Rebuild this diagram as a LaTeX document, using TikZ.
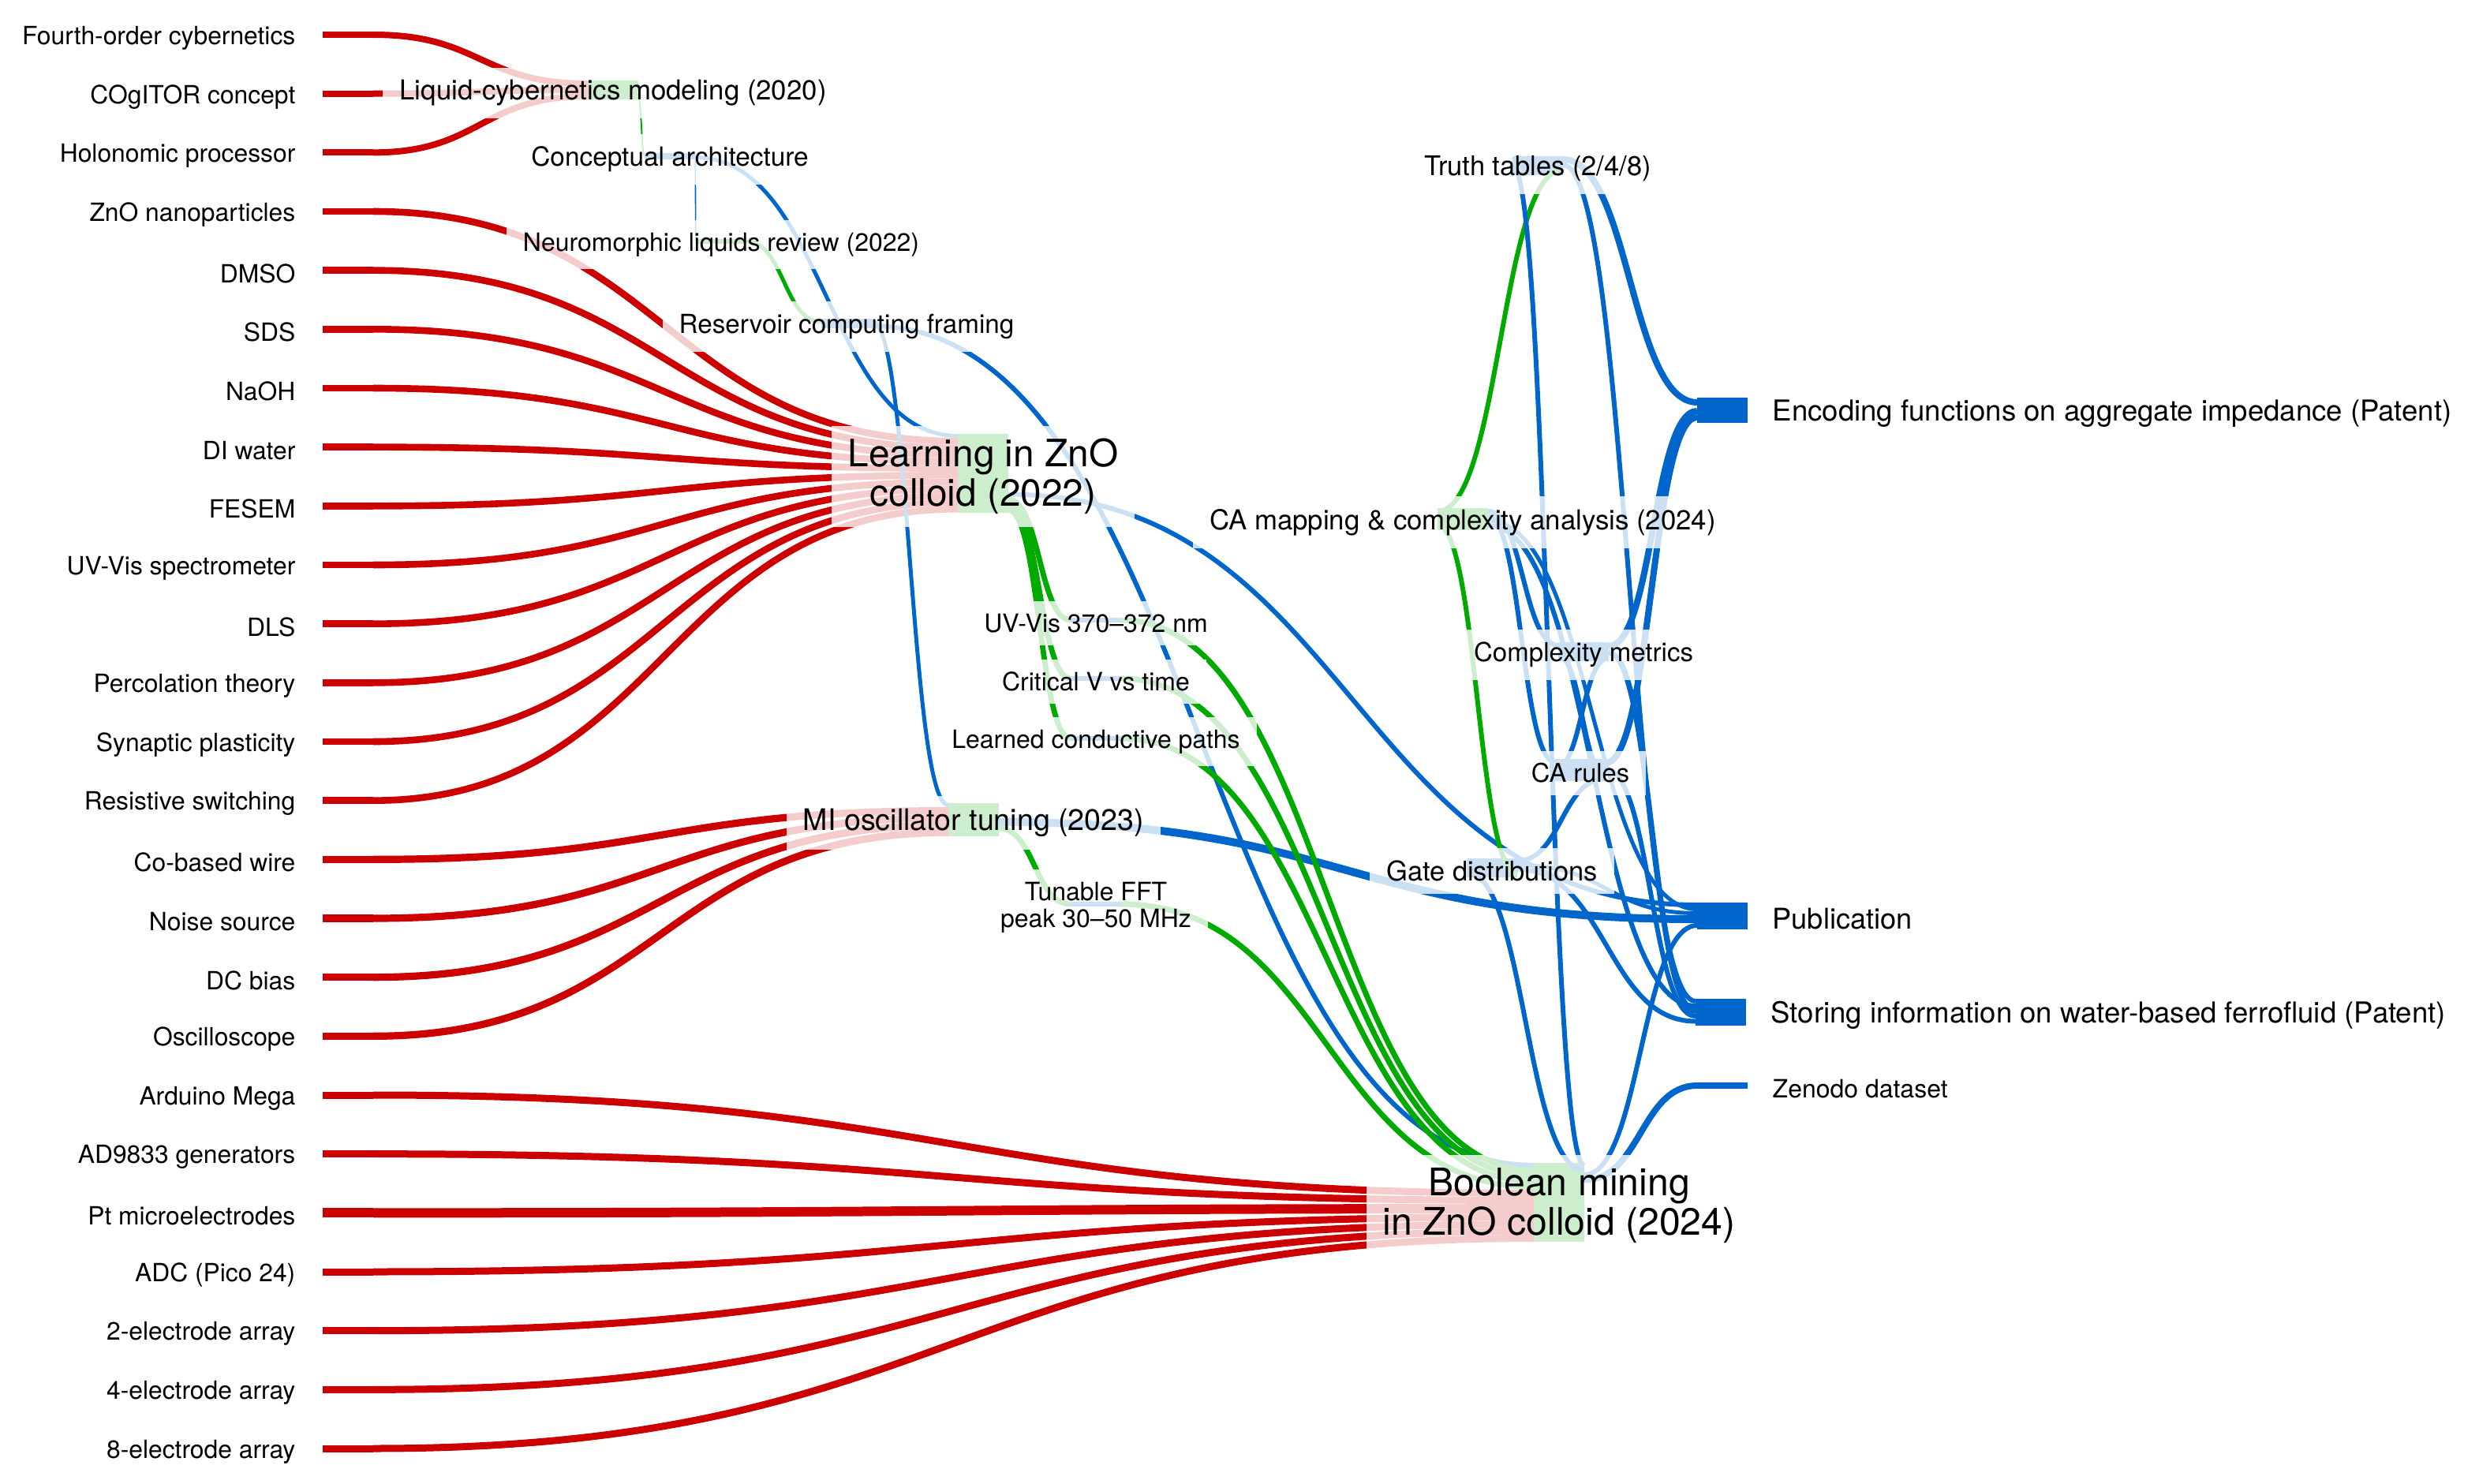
\documentclass[tikz,border=0pt]{standalone}
\usepackage{fontspec}
\setmainfont{TeX Gyre Heros}
\usetikzlibrary{calc, positioning}

\definecolor{rd}{HTML}{CC0000}
\definecolor{gn}{HTML}{00AA00}
\definecolor{bl}{HTML}{0066CC}

% sankey band, horizontal at both ends
\newcommand\flow[5]{%
  \draw[#1] let \p1=($(#2)+(0,#3)$), \p2=($(#4)+(0,#5)$) in
    (\p1) .. controls ({(\x1+\x2)/2},\y1) and ({(\x1+\x2)/2},\y2) .. (\p2);}

\begin{document}
\begin{tikzpicture}[x=0.02cm, y=-0.02cm,
 bar/.style={rectangle, inner sep=0pt, outer sep=0pt, minimum width=0.64cm},
 lab/.style={fill=white, fill opacity=0.8, text opacity=1, inner xsep=6pt, inner ysep=4.5pt,
   align=center, yshift=-0.04cm, font=\fontsize{#1}{#1}\selectfont},
 side/.style={inner sep=0pt, yshift=-0.04cm, font=\fontsize{#1}{#1}\selectfont},
 w/.style={line width=#1*0.02cm}]

  \useasboundingbox (0,0) rectangle (1571,940);

  % inputs
  \foreach \t/\h [count=\i from 0] in {Fourth-order cybernetics/4, COgITOR concept/4,
    Holonomic processor/4, ZnO nanoparticles/4.3, DMSO/4.3, SDS/4.3, NaOH/4.3, DI water/4.3,
    FESEM/4.3, UV-Vis spectrometer/4.3, DLS/4.3, Percolation theory/4.3, Synaptic plasticity/4.3,
    Resistive switching/4.3, Co-based wire/4.6, Noise source/4.6, DC bias/4.6, Oscilloscope/4.6,
    Arduino Mega/4.5, AD9833 generators/4.5, Pt microelectrodes/6, ADC (Pico 24)/4.5,
    2-electrode array/4.5, 4-electrode array/4.5, 8-electrode array/4.5} {
    \node[bar, fill=rd, minimum height=\h*0.02cm] (s\i) at (220.5,{22+37.333*\i}) {};
    \node[side=9.05pt, left=0.34cm of s\i] (t\i) {\t};}

  % projects, findings, outputs
  \foreach \tg/\px/\py/\h/\cl in {lc/388.5/57/12/gn, ca0/424.5/99/4/bl, nr/457/153/3/gn,
    rc/536.5/205/6/bl, lrn/623/300/50/gn, mi/617/519.5/21/gn, uv/694.5/393/3.4/bl,
    cv/694.5/430/3.4/bl, lcp/694.5/468/3.4/bl, fft/694.5/573/3.4/bl, cam/927/329/14/gn,
    tt/974.5/105/12/bl, cm/1003.5/413/12/bl, cr/1001.5/488/14/bl, gd/945.5/550/12/bl,
    bm/988/762/50/gn, enc/1091.5/260/16/bl, pub/1091.5/580.5/17/bl, sto/1090.5/641.5/17/bl,
    zen/1091.5/688/4/bl}
    \node[bar, fill=\cl, minimum height=\h*0.02cm] (\tg) at (\px,\py) {};

  \foreach \i/\tg/\d/\h in {0/lc/2/4, 1/lc/6/4, 2/lc/10/4,
    3/lrn/4.65/4.3, 4/lrn/8.95/4.3, 5/lrn/13.25/4.3, 6/lrn/17.55/4.3, 7/lrn/21.85/4.3,
    8/lrn/26.15/4.3, 9/lrn/30.45/4.3, 10/lrn/34.75/4.3, 11/lrn/39.05/4.3, 12/lrn/43.35/4.3,
    13/lrn/47.65/4.3, 14/mi/4.8/4.6, 15/mi/9.4/4.6, 16/mi/14/4.6, 17/mi/18.6/4.6,
    18/bm/19.25/4.5, 19/bm/23.75/4.5, 20/bm/29/6, 21/bm/34.25/4.5, 22/bm/38.75/4.5,
    23/bm/43.25/4.5, 24/bm/47.75/4.5}
    \flow{rd, w=\h}{s\i.east}{0}{\tg.north west}{\d};

  \foreach \cl/\sa/\sd/\ta/\td/\lw in {
    gn/lc.north east/11/ca0.north west/2/1,
    bl/ca0.north east/1/nr.north west/1.2/0.8,
    bl/ca0.north east/2.8/lrn.north west/1.25/2.5,
    gn/nr.north east/1.5/rc.north west/2/2.5,
    bl/rc.north east/1.5/mi.north west/1.25/2.5,
    bl/rc.north east/4.5/bm.north west/1.5/3,
    bl/lrn.north east/38.3/pub.north west/1.5/3,
    gn/lrn.north east/41.5/uv.north west/1.7/3.4,
    gn/lrn.north east/44.9/cv.north west/1.7/3.4,
    gn/lrn.north east/48.3/lcp.north west/1.7/3.4,
    bl/mi.north east/12/pub.north west/10.5/5,
    gn/mi.north east/16/fft.north west/1.7/3.4,
    gn/uv.north east/1.7/bm.north west/4.75/3.5,
    gn/cv.north east/1.7/bm.north west/8.25/3.5,
    gn/lcp.north east/1.7/bm.north west/11.75/3.5,
    gn/fft.north east/1.7/bm.north west/15.25/3.5,
    gn/cam.north west/2/tt.north east/8.5/3,
    gn/cam.north west/11/gd.north east/10/3,
    bl/tt.north east/2/enc.north west/3/4,
    bl/tt.north east/5.5/sto.north west/1.5/3,
    bl/bm.north east/1.5/tt.north west/6/3,
    bl/bm.north east/4.5/gd.north west/9/3,
    bl/bm.north east/7.5/pub.north west/14.5/3,
    bl/bm.north east/10.75/zen.north west/2/4,
    bl/cam.north east/2/cm.north west/2/3,
    bl/cam.north east/5/cr.north west/2/3,
    bl/cam.north east/8/pub.north west/4.25/2.5,
    bl/cam.north east/11/sto.north west/4.5/3,
    bl/cm.north east/2.5/enc.north west/8.5/4,
    bl/cr.north east/2.5/enc.north west/12.5/4,
    bl/cm.north east/6.75/sto.north west/7.75/3.5,
    bl/cr.north east/6.5/sto.north west/11/3,
    bl/cm.north west/9/cr.north east/9.5/3,
    bl/cm.north east/10/cr.north west/6/3,
    bl/gd.north east/1.5/cr.north east/12.5/3,
    bl/gd.north east/4.25/pub.north west/6.75/2.5,
    bl/gd.north east/7/sto.north west/14.25/3}
    \flow{\cl, w=\lw}{\sa}{\sd}{\ta}{\td};

  % labels
  \node[lab=9.9pt] (Llc) at (lc) {Liquid-cybernetics modeling (2020)};
  \node[lab=9.5pt] (Lca0) at (ca0) {Conceptual architecture};
  \node[lab=9.1pt] (Lnr) at (nr) {Neuromorphic liquids review (2022)};
  \node[lab=9.45pt] (Lrc) at (rc) {Reservoir computing framing};
  \node[lab=13.6pt] (Llrn) at (lrn) {Learning in ZnO\\[0.6pt]colloid (2022)};
  \node[lab=10.7pt] (Lmi) at (mi) {MI oscillator tuning (2023)};
  \node[lab=9.1pt] (Luv) at (uv) {UV-Vis 370–372 nm};
  \node[lab=9.1pt] (Lcv) at (cv) {Critical V vs time};
  \node[lab=9.1pt] (Llcp) at (lcp) {Learned conductive paths};
  \node[lab=9.1pt] (Lfft) at (fft) {Tunable FFT\\[0.6pt]peak 30–50 MHz};
  \node[lab=9.9pt] (Lcam) at (cam) {CA mapping \& complexity analysis (2024)};
  \node[lab=9.8pt] (Ltt) at (tt) {Truth tables (2/4/8)};
  \node[lab=9.4pt] (Lcm) at (cm) {Complexity metrics};
  \node[lab=9.3pt] (Lcr) at (cr) {CA rules};
  \node[lab=9.8pt] (Lgd) at (gd) {Gate distributions};
  \node[lab=13.7pt] (Lbm) at (bm) {Boolean mining\\[0.6pt]in ZnO colloid (2024)};

  \node[side=10.4pt, right=0.31cm of enc] (Lenc) {Encoding functions on aggregate impedance (Patent)};
  \node[side=10.3pt, right=0.31cm of pub] (Lpub) {Publication};
  \node[side=10.4pt, right=0.31cm of sto] (Lsto) {Storing information on water-based ferrofluid (Patent)};
  \node[side=9.1pt, right=0.31cm of zen] (Lzen) {Zenodo dataset};
\end{tikzpicture}
\end{document}
